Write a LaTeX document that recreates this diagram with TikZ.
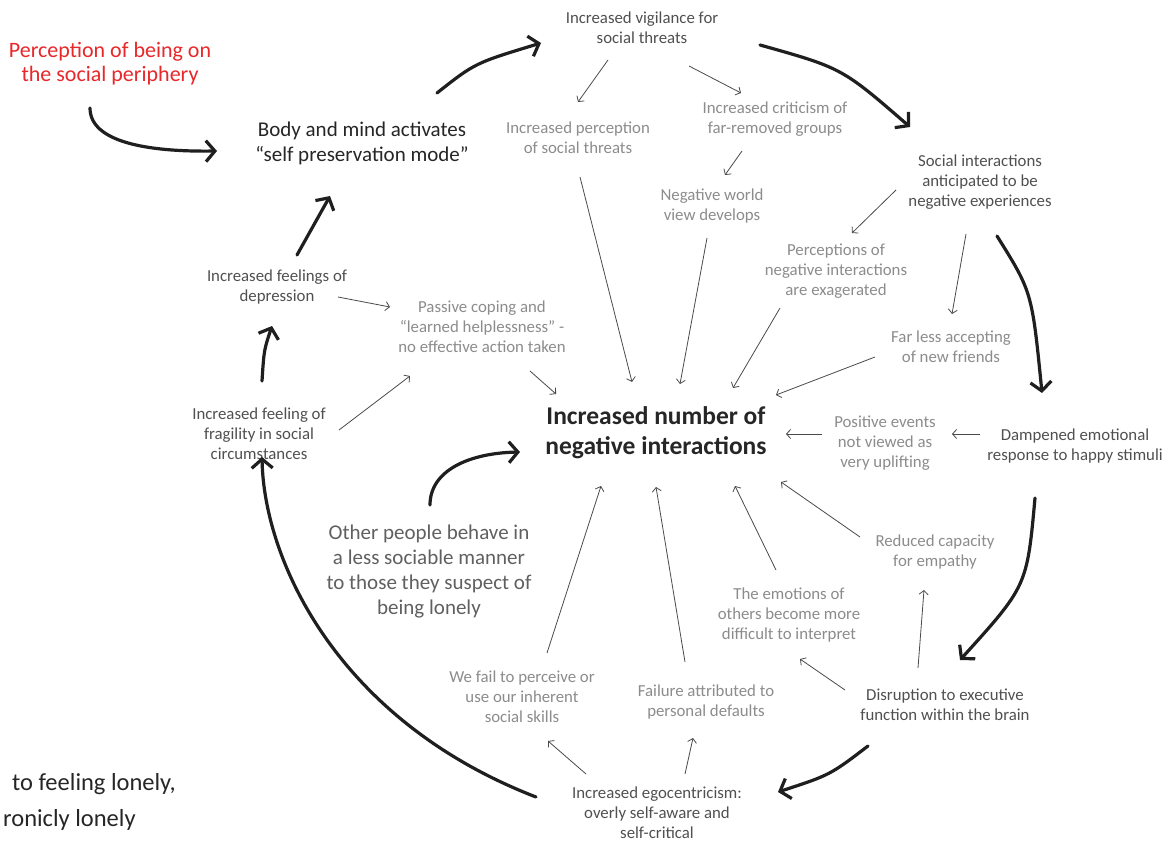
\documentclass[tikz,border=0pt]{standalone}
\usepackage{fontspec}
\setmainfont{Carlito}
\usetikzlibrary{arrows.meta,calc}
\definecolor{redtxt}{HTML}{E8282A}
\definecolor{darktxt}{HTML}{262626}
\definecolor{midtxt}{HTML}{505050}
\definecolor{lighttxt}{HTML}{8C8C8C}
\definecolor{othertxt}{HTML}{606060}
\definecolor{thinline}{HTML}{4A4A4A}
\tikzset{
  small/.style={align=center,inner sep=0pt,font=\fontsize{16.8}{20}\selectfont},
  cyc/.style={small,text=midtxt},
  sub/.style={small,text=lighttxt},
  thick arrow/.style={draw=black!88,line width=3.2pt,line cap=round,-{Straight Barb[length=9pt,width=21pt,line width=3.2pt]}},
  thin arrow/.style={draw=thinline,line width=0.8pt,-{Straight Barb[length=4pt,width=9pt,line width=0.8pt]}}
}
\begin{document}
\begin{tikzpicture}[x=1pt,y=-1pt]
\useasboundingbox[fill=white] (0,0) rectangle (1170,843);

% nodes
\node[align=center,inner sep=0pt,text=redtxt,font=\fontsize{22}{24}\selectfont] (red) at (110,64) {Perception of being on\\the social periphery};
\node[align=center,inner sep=0pt,text=darktxt,font=\fontsize{21}{25}\selectfont] (body) at (362,143) {Body and mind activates\\“self preservation mode”};
\node[cyc] (vigil) at (642,28) {Increased vigilance for\\social threats};
\node[sub] (percep) at (578,138) {Increased perception\\of social threats};
\node[sub] (critic) at (775,119) {Increased criticism of\\far-removed groups};
\node[sub] (world) at (712,206) {Negative world\\view develops};
\node[cyc] (social) at (980,182) {Social interactions\\anticipated to be\\negative experiences};
\node[sub] (percneg) at (836,271) {Perceptions of\\negative interactions\\are exagerated};
\node[sub] (faraccept) at (951,347) {Far less accepting\\of new friends};
\node[sub] (posev) at (885,443) {Positive events\\not viewed as\\very uplifting};
\node[cyc] (damp) at (1075,446) {Dampened emotional\\response to happy stimuli};
\node[align=center,inner sep=0pt,text=darktxt,font=\bfseries\fontsize{25.5}{30}\selectfont] (center) at (656,433) {Increased number of\\negative interactions};
\node[sub] (passive) at (482,327) {Passive coping and\\“learned helplessness” -\\no effective action taken};
\node[cyc] (depress) at (277,287) {Increased feelings of\\depression};
\node[cyc] (fragil) at (259,434) {Increased feeling of\\fragility in social\\circumstances};
\node[align=center,inner sep=0pt,text=othertxt,font=\fontsize{21}{25}\selectfont] (other) at (429,572) {Other people behave in\\a less sociable manner\\to those they suspect of\\being lonely};
\node[sub] (reduced) at (935,552) {Reduced capacity\\for empathy};
\node[sub] (emotions) at (789,615) {The emotions of\\others become more\\difficult to interpret};
\node[cyc] (disrupt) at (945,705) {Disruption to executive\\function within the brain};
\node[sub] (failure) at (706,702) {Failure attributed to\\personal defaults};
\node[sub] (wefail) at (522,697) {We fail to perceive or\\use our inherent\\social skills};
\node[cyc] (ego) at (657,813) {Increased egocentricism:\\overly self-aware and\\self-critical};
\node[anchor=base west,inner sep=0pt,text=darktxt,font=\fontsize{24.5}{28}\selectfont] (bla) at (12,790) {to feeling lonely,};
\node[anchor=base west,inner sep=0pt,text=darktxt,font=\fontsize{24.5}{28}\selectfont] (blb) at (3,826) {ronicly lonely};

% thick cycle arrows
\draw[thick arrow] ($(red)+(-20,44)$) .. controls ($(red)+(-20,78)$) and ($(body)+(-215,9)$) .. ($(body)+(-145,8)$);
\draw[thick arrow] ($(body)+(75,-50)$) .. controls ($(body)+(113,-80)$) .. ($(vigil)+(-101,15)$);
\draw[thick arrow] ($(vigil)+(118,17)$) .. controls ($(vigil)+(200,40)$) .. ($(social)+(-70,-55)$);
\draw[thick arrow] ($(social)+(17,54)$) .. controls ($(social)+(52,110)$) .. ($(damp)+(-33,-53)$);
\draw[thick arrow] ($(damp)+(-40,52)$) .. controls ($(damp)+(-48,140)$) .. ($(disrupt)+(15,-45)$);
\draw[thick arrow] ($(disrupt)+(-77,41)$) .. controls ($(disrupt)+(-115,70)$) .. ($(ego)+(121,-21)$);
\draw[thick arrow] ($(ego)+(-121,-16)$) .. controls ($(ego)+(-320,-93)$) and ($(fragil)+(5,126)$) .. ($(fragil)+(3,23)$);
\draw[thick arrow] ($(fragil)+(3,-53)$) .. controls ($(fragil)+(5,-84)$) .. ($(depress)+(-5,39)$);
\draw[thick arrow] ($(depress)+(20,-32)$) -- ($(body)+(-32,53)$);
\draw[thick arrow] ($(other)+(1,-67)$) .. controls ($(other)+(1,-102)$) and ($(center)+(-186,20)$) .. ($(center)+(-136,19)$);

% thin arrows
\draw[thin arrow] ($(vigil)+(-34,32)$) -- ($(percep)+(0,-36)$);
\draw[thin arrow] ($(vigil)+(47,38)$) -- ($(critic)+(-34,-26)$);
\draw[thin arrow] ($(critic)+(-33,32)$) -- ($(world)+(13,-31)$);
\draw[thin arrow] ($(percep)+(2,39)$) -- ($(center)+(-24,-51)$);
\draw[thin arrow] ($(world)+(-5,32)$) -- ($(center)+(24,-49)$);
\draw[thin arrow] ($(social)+(-84,8)$) -- ($(percneg)+(16,-38)$);
\draw[thin arrow] ($(percneg)+(-56,37)$) -- ($(center)+(77,-45)$);
\draw[thin arrow] ($(social)+(-14,52)$) -- ($(faraccept)+(1,-33)$);
\draw[thin arrow] ($(faraccept)+(-76,10)$) -- ($(center)+(120,-38)$);
\draw[thin arrow] ($(damp)+(-95,-12)$) -- ($(posev)+(67,-9)$);
\draw[thin arrow] ($(posev)+(-63,-9)$) -- ($(center)+(130,1)$);
\draw[thin arrow] ($(passive)+(48,44)$) -- ($(center)+(-100,-39)$);
\draw[thin arrow] ($(depress)+(61,10)$) -- ($(passive)+(-92,-20)$);
\draw[thin arrow] ($(fragil)+(80,-4)$) -- ($(passive)+(-72,49)$);
\draw[thin arrow] ($(reduced)+(-75,-15)$) -- ($(center)+(125,49)$);
\draw[thin arrow] ($(emotions)+(-13,-45)$) -- ($(center)+(79,53)$);
\draw[thin arrow] ($(wefail)+(25,-44)$) -- ($(center)+(-55,53)$);
\draw[thin arrow] ($(failure)+(-21,-40)$) -- ($(center)+(0,54)$);
\draw[thin arrow] ($(disrupt)+(-100,-15)$) -- ($(emotions)+(11,44)$);
\draw[thin arrow] ($(disrupt)+(-27,-37)$) -- ($(reduced)+(-11,38)$);
\draw[thin arrow] ($(ego)+(-71,-39)$) -- ($(wefail)+(26,44)$);
\draw[thin arrow] ($(ego)+(28,-39)$) -- ($(failure)+(-13,36)$);
\end{tikzpicture}
\end{document}
